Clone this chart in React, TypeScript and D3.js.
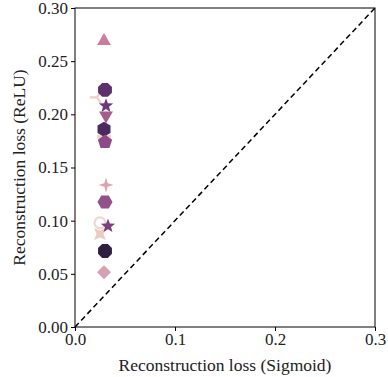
import { useEffect, useRef } from "react";
import * as d3 from "d3";

// marker kinds, drawn in this order
const markers = ["tri_left", "plus", "ring", "x", "triangle_up", "octagon", "star", "triangle_down", "hexagon1", "pentagon", "sparkle", "hexagon2", "star", "octagon", "diamond"];
const sigmoidLoss = [0.022, 0.029, 0.025, 0.025, 0.029, 0.030, 0.031, 0.031, 0.029, 0.030, 0.031, 0.030, 0.033, 0.030, 0.029];
const reluLoss = [0.216, 0.179, 0.098, 0.0875, 0.269, 0.223, 0.208, 0.199, 0.186, 0.174, 0.1335, 0.1175, 0.095, 0.0715, 0.0515];
const colors = ["#efcfca", "#efd3cc", "#f0d6cf", "#edcbc4", "#c97c9c", "#5d2f6c", "#6d377a", "#a45d8d", "#4b2a5f", "#8e4a86", "#dca4b2", "#93508a", "#7b3f7d", "#2e1f40", "#d8a0b0"];

const xTicks = [0, 0.1, 0.2, 0.3];
const yTicks = [0, 0.05, 0.1, 0.15, 0.2, 0.25, 0.3];

const poly = (n: number, r: number, rot: number) => {
  const pts = d3.range(n).map((i) => {
    const a = rot + (i * 2 * Math.PI) / n;
    return [r * Math.sin(a), -r * Math.cos(a)];
  });
  return "M" + pts.map((p) => p.join(",")).join("L") + "Z";
};

const star = (n: number, r: number, ri: number, rot: number) => {
  const pts = d3.range(n * 2).map((i) => {
    const a = rot + (i * Math.PI) / n;
    const rr = i % 2 === 0 ? r : ri;
    return [rr * Math.sin(a), -rr * Math.cos(a)];
  });
  return "M" + pts.map((p) => p.join(",")).join("L") + "Z";
};

const markerPath = (kind: string) => {
  switch (kind) {
    case "triangle_up": return poly(3, 8, 0);
    case "triangle_down": return poly(3, 8, Math.PI);
    case "octagon": return poly(8, 7.5, Math.PI / 8);
    case "hexagon1": return poly(6, 7.5, 0);
    case "hexagon2": return poly(6, 7.5, Math.PI / 6);
    case "pentagon": return poly(5, 7.5, 0);
    case "star": return star(5, 7.5, 3.2, 0);
    case "sparkle": return star(4, 7.5, 2.4, 0);
    case "diamond": return poly(4, 7, 0);
    case "x": return star(4, 8.5, 3.5, Math.PI / 4);
    default: return "";
  }
};

export default function App() {
  const ref = useRef<SVGSVGElement>(null);

  useEffect(() => {
    const svg = d3.select(ref.current);
    svg.selectAll("*").remove();

    const left = 75, right = 375, top = 8, bottom = 327;
    const x = d3.scaleLinear().domain([0, 0.3]).range([left, right]);
    const y = d3.scaleLinear().domain([0, 0.3]).range([bottom, top]);
    const font = "'Liberation Serif', 'DejaVu Serif', serif";

    // diagonal
    svg.append("line")
      .attr("x1", x(0)).attr("y1", y(0))
      .attr("x2", x(0.3)).attr("y2", y(0.3))
      .attr("stroke", "#000").attr("stroke-width", 1.5)
      .attr("stroke-dasharray", "5.5,3.5");

    // markers
    const g = svg.append("g");
    markers.forEach((m, i) => {
      const cx = x(sigmoidLoss[i]);
      const cy = y(reluLoss[i]);
      const c = colors[i];
      if (m === "tri_left") {
        g.append("path").attr("transform", `translate(${cx},${cy})`)
          .attr("stroke", c).attr("stroke-width", 2.2).attr("fill", "none")
          .attr("d", "M0,0L-7,0M0,0L4,-6M0,0L4,6");
      } else if (m === "plus") {
        g.append("path").attr("transform", `translate(${cx},${cy})`)
          .attr("d", "M-2,-7H2V-2H7V2H2V7H-2V2H-7V-2H-2Z").attr("fill", c);
      } else if (m === "ring") {
        g.append("circle").attr("cx", cx).attr("cy", cy).attr("r", 5.5)
          .attr("fill", "none").attr("stroke", c).attr("stroke-width", 2.2);
      } else {
        g.append("path").attr("transform", `translate(${cx},${cy})`)
          .attr("d", markerPath(m)).attr("fill", c);
      }
    });

    // frame
    svg.append("rect")
      .attr("x", left).attr("y", top)
      .attr("width", right - left).attr("height", bottom - top)
      .attr("fill", "none").attr("stroke", "#000").attr("stroke-width", 1);

    // x axis
    const xa = svg.append("g").attr("transform", `translate(0,${bottom})`)
      .call(d3.axisBottom(x).tickValues(xTicks).tickFormat(d3.format(".1f")).tickSize(4).tickPadding(2));
    xa.select(".domain").remove();
    xa.selectAll("text").attr("font-family", font).attr("font-size", 17).attr("fill", "#222");

    // y axis
    const ya = svg.append("g").attr("transform", `translate(${left},0)`)
      .call(d3.axisLeft(y).tickValues(yTicks).tickFormat(d3.format(".2f")).tickSize(4).tickPadding(3));
    ya.select(".domain").remove();
    ya.selectAll("text").attr("font-family", font).attr("font-size", 17).attr("fill", "#222");

    svg.append("text")
      .attr("x", (left + right) / 2).attr("y", 371)
      .attr("text-anchor", "middle")
      .attr("font-family", font).attr("font-size", 17.5).attr("fill", "#222")
      .text("Reconstruction loss (Sigmoid)");

    svg.append("text")
      .attr("transform", `translate(25,${(top + bottom) / 2}) rotate(-90)`)
      .attr("text-anchor", "middle")
      .attr("font-family", font).attr("font-size", 17.5).attr("fill", "#222")
      .text("Reconstruction loss (ReLU)");
  }, []);

  return (
    <svg ref={ref} width={388} height={377}
      style={{ position: "absolute", left: 0, top: 0, background: "#fff" }} />
  );
}
